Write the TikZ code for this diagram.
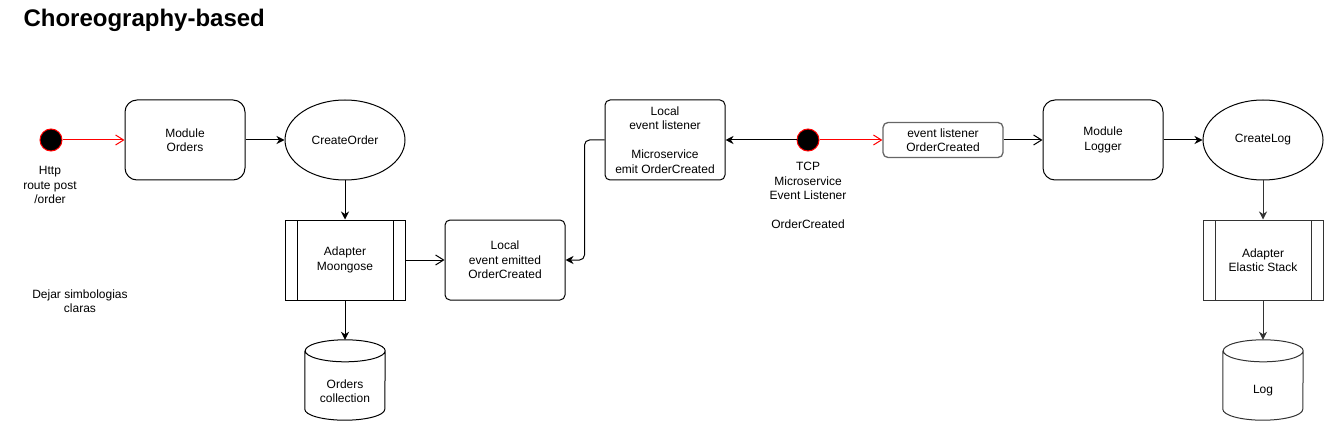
\documentclass[tikz,border=0pt]{standalone}
\usepackage{fontspec}
\setmainfont{Liberation Sans}
\usetikzlibrary{shapes.geometric,arrows.meta}

\definecolor{logline}{HTML}{333333}
\definecolor{lstline}{HTML}{666666}

\tikzset{
  every node/.style={font=\fontsize{12pt}{14.4pt}\selectfont, align=center},
  title/.style={font=\fontsize{24pt}{28pt}\bfseries},
  modbox/.style={draw, line width=1pt, rounded corners=12pt, minimum width=120pt, minimum height=80pt, inner sep=0pt},
  evbox/.style={draw, line width=1pt, rounded corners=5pt, minimum width=120pt, minimum height=80pt, inner sep=0pt},
  lstbox/.style={draw=lstline, line width=1.3pt, rounded corners=5pt, minimum width=120pt, minimum height=35pt, inner sep=0pt},
  usecase/.style={draw, ellipse, line width=1pt, minimum width=120pt, minimum height=80pt, inner sep=0pt},
  procbox/.style={draw=#1, line width=1pt, minimum width=120pt, minimum height=80pt, inner sep=0pt,
    path picture={\draw[line width=1pt, draw=#1]
      ([xshift=12pt]path picture bounding box.north west) -- ([xshift=12pt]path picture bounding box.south west)
      ([xshift=-12pt]path picture bounding box.north east) -- ([xshift=-12pt]path picture bounding box.south east);}},
  procbox/.default=black,
  dbstore/.style={minimum width=80pt, minimum height=58pt, inner sep=0pt,
    append after command={\pgfextra{\draw[line width=1pt, draw=#1]
      ([yshift=11pt]\tikzlastnode.north west) -- ([yshift=11pt]\tikzlastnode.south west)
      arc[start angle=180, end angle=360, x radius=40pt, y radius=11pt]
      -- ([yshift=11pt]\tikzlastnode.north east)
      arc[start angle=0, end angle=360, x radius=40pt, y radius=11pt];}}},
  dbstore/.default=black,
  startdot/.style={circle, fill=black, draw=red, line width=1pt, minimum size=22pt, inner sep=0pt},
  conn/.style={line width=1pt, -{Stealth[length=8pt, width=8pt, inset=2.5pt]}},
  openconn/.style={line width=1pt, -{Straight Barb[length=8pt, width=10pt]}},
  redconn/.style={openconn, draw=red}
}

\begin{document}
\begin{tikzpicture}[x=1pt,y=-1pt]
\useasboundingbox (0,0) rectangle (1324,422);

\node[title, anchor=base west] (title) at (20,27) {Choreography-based};

\node[startdot] (http) at (51,140) {};
\node (httplbl) at (50,185) {Http\\route post\\/order};
\node[modbox] (modorders) at (185,140) {Module\\Orders};
\node[usecase] (createorder) at (345,140) {CreateOrder};
\node[procbox] (mongoose) at (345,260) {Adapter\\Moongose};
\node[dbstore] (orderscol) at (345,391) {Orders\\collection};
\node[evbox] (emitted) at (505,260) {Local\\event emitted\\OrderCreated};
\node (note) at (80,301.5) {Dejar simbologias\\claras};

\node[evbox] (listener) at (665,140) {Local\\event listener\\[\baselineskip]Microservice\\emit OrderCreated};
\node[startdot] (tcp) at (808,140) {};
\node (tcplbl) at (808,195.3) {TCP\\Microservice\\Event Listener\\[\baselineskip]OrderCreated};
\node[lstbox] (lstcreated) at (943,140) {event listener\\OrderCreated};
\node[modbox] (modlogger) at (1103,140) {Module\\Logger};
\node[usecase] (createlog) at (1263,140) {CreateLog};
\node[procbox=logline] (elastic) at (1263,260) {Adapter\\Elastic Stack};
\node[dbstore=logline] (logdb) at (1263,391) {Log};

\draw[redconn] (http) -- (modorders);
\draw[conn] (modorders) -- (createorder);
\draw[conn] (createorder) -- (mongoose);
\draw[conn] (mongoose) -- ([yshift=22pt]orderscol.north);
\draw[openconn] (mongoose) -- (emitted);
\draw[conn, rounded corners=5pt] (listener.west) -- ++(-20,0) |- (emitted.east);
\draw[conn] (tcp) -- (listener);
\draw[redconn] (tcp) -- (lstcreated);
\draw[openconn] (lstcreated) -- (modlogger);
\draw[conn] (modlogger) -- (createlog);
\draw[conn, draw=logline] (createlog) -- (elastic);
\draw[conn, draw=logline] (elastic) -- ([yshift=22pt]logdb.north);
\end{tikzpicture}
\end{document}
